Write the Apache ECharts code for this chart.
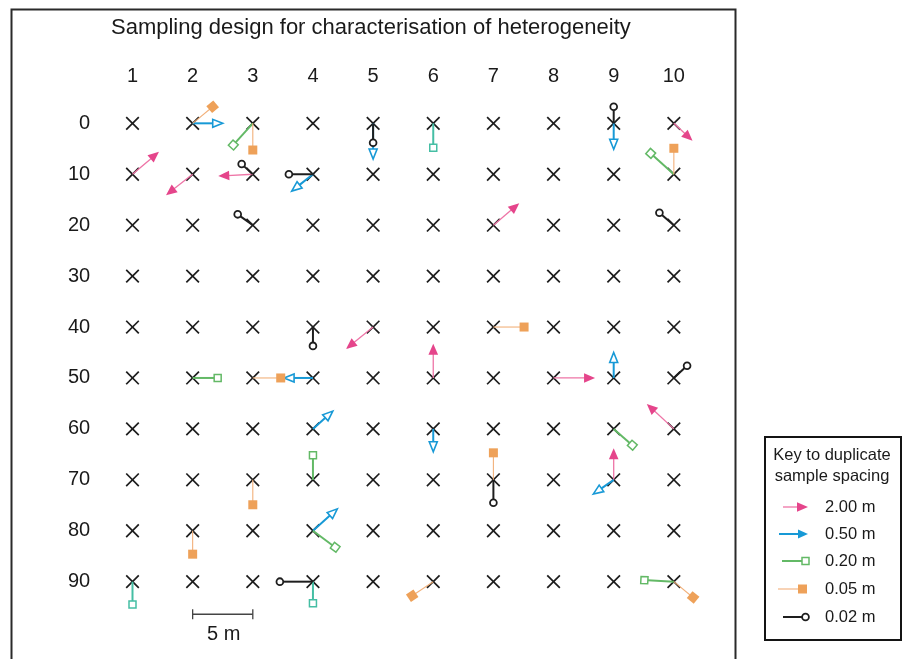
<!DOCTYPE html>
<html><head><meta charset="utf-8">
<script src="https://cdn.jsdelivr.net/npm/echarts@6/dist/echarts.min.js"></script>
<style>html,body{margin:0;padding:0;background:#fff}#c{width:902px;height:659px}</style>
</head><body><div id="c"></div>
<script>
// ---------------- data ----------------
const columns = [1, 2, 3, 4, 5, 6, 7, 8, 9, 10];
const rows = [0, 10, 20, 30, 40, 50, 60, 70, 80, 90];
const columnLabels = ['1', '2', '3', '4', '5', '6', '7', '8', '9', '10'];
const rowLabels = ['0', '10', '20', '30', '40', '50', '60', '70', '80', '90'];
const titleText = 'Sampling design for characterisation of heterogeneity';
const legendTitle = ['Key to duplicate', 'sample spacing'];
const legendLabels = ['2.00 m', '0.50 m', '0.20 m', '0.05 m', '0.02 m'];
const scaleBarLabel = '5 m';
const scaleBarColumns = [2, 3];
const scaleBarRow = 96.4;

// [grid column, grid row, duplicate column, duplicate row]
const spacing200 = [
  [1, 10, 1.44, 5.6], [2, 10, 1.557, 14.1], [3, 10, 2.426, 10.35], [10, 0, 10.31, 3.4],
  [7, 20, 7.43, 15.7], [5, 40, 4.55, 44.3], [6, 50, 6, 43.3], [8, 50, 8.69, 50],
  [10, 60, 9.55, 55.1], [9, 70, 9, 63.8]
];
const spacing050 = [
  [2, 0, 2.5, 0], [5, 0, 5, 7.0], [4, 10, 3.647, 13.3], [9, 0, 9, 5.1],
  [4, 50, 3.52, 50], [4, 60, 4.33, 56.5], [9, 50, 9, 45.0], [6, 60, 6, 64.5],
  [4, 80, 4.405, 75.7], [9, 70, 8.66, 72.8]
];
const spacing020 = [
  [3, 0, 2.676, 4.26], [10, 10, 9.615, 5.9], [2, 50, 2.416, 50], [9, 60, 9.31, 63.2],
  [4, 70, 4, 65.2], [4, 80, 4.37, 83.25], [10, 90, 9.51, 89.7]
];
const spacing020b = [
  [6, 0, 6, 4.8], [1, 90, 1, 94.5], [4, 90, 4, 94.25]
];
const spacing005 = [
  [2, 0, 2.333, -3.26], [3, 0, 3, 5.24], [10, 10, 10, 4.9], [7, 40, 7.51, 40],
  [3, 50, 3.464, 50], [7, 70, 7, 64.7], [3, 70, 3, 74.9], [2, 80, 2, 84.6],
  [6, 90, 5.65, 92.75], [10, 90, 10.32, 93.1]
];
const spacing002 = [
  [5, 0, 5, 3.8], [9, 0, 9, -3.26], [3, 10, 2.815, 8.0], [4, 10, 3.6, 10],
  [3, 20, 2.749, 17.87], [10, 20, 9.76, 17.55], [4, 40, 4, 43.7], [10, 50, 10.22, 47.6],
  [7, 70, 7, 74.5], [4, 90, 3.45, 90]
];

// ---------------- styles ----------------
const FONT = "'Liberation Sans', Arial, Helvetica, sans-serif";
const TXT = '#1a1a1a';
const STY = {
  pink:   { head: 'tri', len: 11, hw: 4.8, fill: '#e5458b', line: '#ee74a6', lw: 1.3 },
  blue:   { head: 'tri', len: 10, hw: 4, fill: '#fff', hstroke: '#1799d6', hlw: 1.6, line: '#1799d6', lw: 2, open: true },
  blueL:  { head: 'tri', len: 10, hw: 4.5, fill: '#1799d6', line: '#1799d6', lw: 2 },
  green:  { head: 'sq', size: 7, fill: '#fff', hstroke: '#63b966', hlw: 1.5, line: '#63b966', lw: 2, open: true },
  teal:   { head: 'sq', size: 7, fill: '#fff', hstroke: '#45bea4', hlw: 1.5, line: '#45bea4', lw: 2, open: true },
  orange: { head: 'sq', size: 9, fill: '#eea159', line: '#f2b07a', lw: 1.1 },
  black:  { head: 'circ', r: 3.4, hstroke: '#1e1e1e', hlw: 1.8, line: '#1e1e1e', lw: 2 }
};

function glyph(kind, p0, p1) {
  const st = STY[kind];
  const dx = p1[0] - p0[0], dy = p1[1] - p0[1];
  const L = Math.hypot(dx, dy) || 1, ux = dx / L, uy = dy / L, nx = -uy, ny = ux;
  const at = (d, n) => [p1[0] - ux * d + nx * n, p1[1] - uy * d + ny * n];
  let cut = 0, head;
  if (st.head === 'tri') {
    cut = st.open ? st.len : st.len - 2;
    head = { type: 'polygon', shape: { points: [[p1[0], p1[1]], at(st.len, st.hw), at(st.len, -st.hw)] },
      style: { fill: st.fill, stroke: st.hstroke || null, lineWidth: st.hlw || 0, lineJoin: 'miter' } };
  } else if (st.head === 'sq') {
    const h = st.size / 2;
    cut = st.open ? h : 0;
    head = { type: 'polygon', shape: { points: [at(-h, -h), at(-h, h), at(h, h), at(h, -h)] },
      style: { fill: st.fill, stroke: st.hstroke || null, lineWidth: st.hlw || 0 } };
  } else {
    cut = st.r;
    head = { type: 'circle', shape: { cx: p1[0], cy: p1[1], r: st.r },
      style: { fill: '#fff', stroke: st.hstroke, lineWidth: st.hlw } };
  }
  const e = at(cut, 0);
  return { type: 'group', silent: true, children: [
    { type: 'line', shape: { x1: p0[0], y1: p0[1], x2: e[0], y2: e[1] }, style: { stroke: st.line, lineWidth: st.lw } },
    head
  ] };
}

function dupSeries(name, kind, data) {
  return {
    type: 'custom', name, data, silent: true, z: 3,
    encode: { x: [0, 2], y: [1, 3] },
    renderItem: (params, api) => glyph(kind,
      api.coord([api.value(0), api.value(1)]),
      api.coord([api.value(2), api.value(3)]))
  };
}

const gridPoints = [];
rows.forEach(r => columns.forEach(c => gridPoints.push([c, r])));

const chart = echarts.init(document.getElementById('c'), null, { renderer: 'canvas' });

// legend graphics
const LX = 765, LY = 437, LW = 136, LH = 203;
const legendKinds = ['pink', 'blueL', 'green', 'orange', 'black'];
const legendY = [507, 534, 561, 589, 617];
const legendX = [[783, 808], [779, 808], [782, 805.5], [778, 802.5], [783, 805.5]];
const legendGraphics = [
  { type: 'rect', shape: { x: LX, y: LY, width: LW, height: LH }, style: { fill: '#fff', stroke: '#141414', lineWidth: 2 } },
  { type: 'text', x: LX + LW / 2 - 1, y: 455, style: { text: legendTitle[0], font: '16.5px ' + FONT, fill: TXT, align: 'center', verticalAlign: 'middle' } },
  { type: 'text', x: LX + LW / 2 - 1, y: 476, style: { text: legendTitle[1], font: '16.5px ' + FONT, fill: TXT, align: 'center', verticalAlign: 'middle' } }
];
legendKinds.forEach((k, i) => {
  legendGraphics.push(glyph(k, [legendX[i][0], legendY[i]], [legendX[i][1], legendY[i]]));
  legendGraphics.push({ type: 'text', x: 825, y: legendY[i], style: { text: legendLabels[i], font: '16.5px ' + FONT, fill: TXT, align: 'left', verticalAlign: 'middle' } });
});

chart.setOption({
  animation: false,
  backgroundColor: '#fff',
  title: {
    text: titleText, left: 111, top: 17, padding: 0,
    textStyle: { fontFamily: FONT, fontSize: 22, fontWeight: 'normal', color: TXT }
  },
  grid: { left: 72.35, width: 661.65, top: 72.4, height: 560.2, containLabel: false },
  xAxis: {
    type: 'value', position: 'top', min: 0, max: 11, interval: 1,
    axisLine: { show: false }, axisTick: { show: false }, splitLine: { show: false },
    axisLabel: {
      margin: -3.6, verticalAlign: 'middle', fontFamily: FONT, fontSize: 20, color: TXT,
      formatter: v => (v >= 1 && v <= 10) ? columnLabels[v - 1] : ''
    }
  },
  yAxis: {
    type: 'value', inverse: true, min: -10, max: 100, interval: 10,
    axisLine: { show: false }, axisTick: { show: false }, splitLine: { show: false },
    axisLabel: {
      margin: -17.8, align: 'right', verticalAlign: 'middle', fontFamily: FONT, fontSize: 20, color: TXT,
      formatter: v => (v >= 0 && v <= 90) ? rowLabels[v / 10] : ''
    }
  },
  graphic: [
    { type: 'rect', shape: { x: 11.5, y: 9.5, width: 724, height: 720 }, style: { fill: 'none', stroke: '#2a2a2a', lineWidth: 2 }, z: 0 }
  ].concat(legendGraphics),
  series: [
    {
      type: 'custom', name: 'grid', data: gridPoints, silent: true, z: 2,
      encode: { x: 0, y: 1 },
      renderItem: (params, api) => {
        const p = api.coord([api.value(0), api.value(1)]);
        const h = 6.3;
        return { type: 'group', children: [
          { type: 'line', shape: { x1: p[0] - h, y1: p[1] - h, x2: p[0] + h, y2: p[1] + h }, style: { stroke: '#1c1c1c', lineWidth: 1.7 } },
          { type: 'line', shape: { x1: p[0] - h, y1: p[1] + h, x2: p[0] + h, y2: p[1] - h }, style: { stroke: '#1c1c1c', lineWidth: 1.7 } }
        ] };
      }
    },
    dupSeries('2.00 m', 'pink', spacing200),
    dupSeries('0.50 m', 'blue', spacing050),
    dupSeries('0.20 m', 'green', spacing020),
    dupSeries('0.20 m b', 'teal', spacing020b),
    dupSeries('0.05 m', 'orange', spacing005),
    dupSeries('0.02 m', 'black', spacing002),
    {
      type: 'custom', name: 'scale', silent: true, z: 2,
      data: [[scaleBarColumns[0], scaleBarRow, scaleBarColumns[1]]],
      encode: { x: [0, 2], y: 1 },
      renderItem: (params, api) => {
        const a = api.coord([api.value(0), api.value(1)]);
        const b = api.coord([api.value(2), api.value(1)]);
        const s = { stroke: '#444', lineWidth: 1.3 };
        return { type: 'group', children: [
          { type: 'line', shape: { x1: a[0], y1: a[1], x2: b[0], y2: b[1] }, style: s },
          { type: 'line', shape: { x1: a[0], y1: a[1] - 5, x2: a[0], y2: a[1] + 5 }, style: s },
          { type: 'line', shape: { x1: b[0], y1: b[1] - 5, x2: b[0], y2: b[1] + 5 }, style: s },
          { type: 'text', x: (a[0] + b[0]) / 2 + 1, y: a[1] + 20, style: { text: scaleBarLabel, font: '20px ' + FONT, fill: TXT, align: 'center', verticalAlign: 'middle' } }
        ] };
      }
    }
  ]
});
</script>
</body></html>
